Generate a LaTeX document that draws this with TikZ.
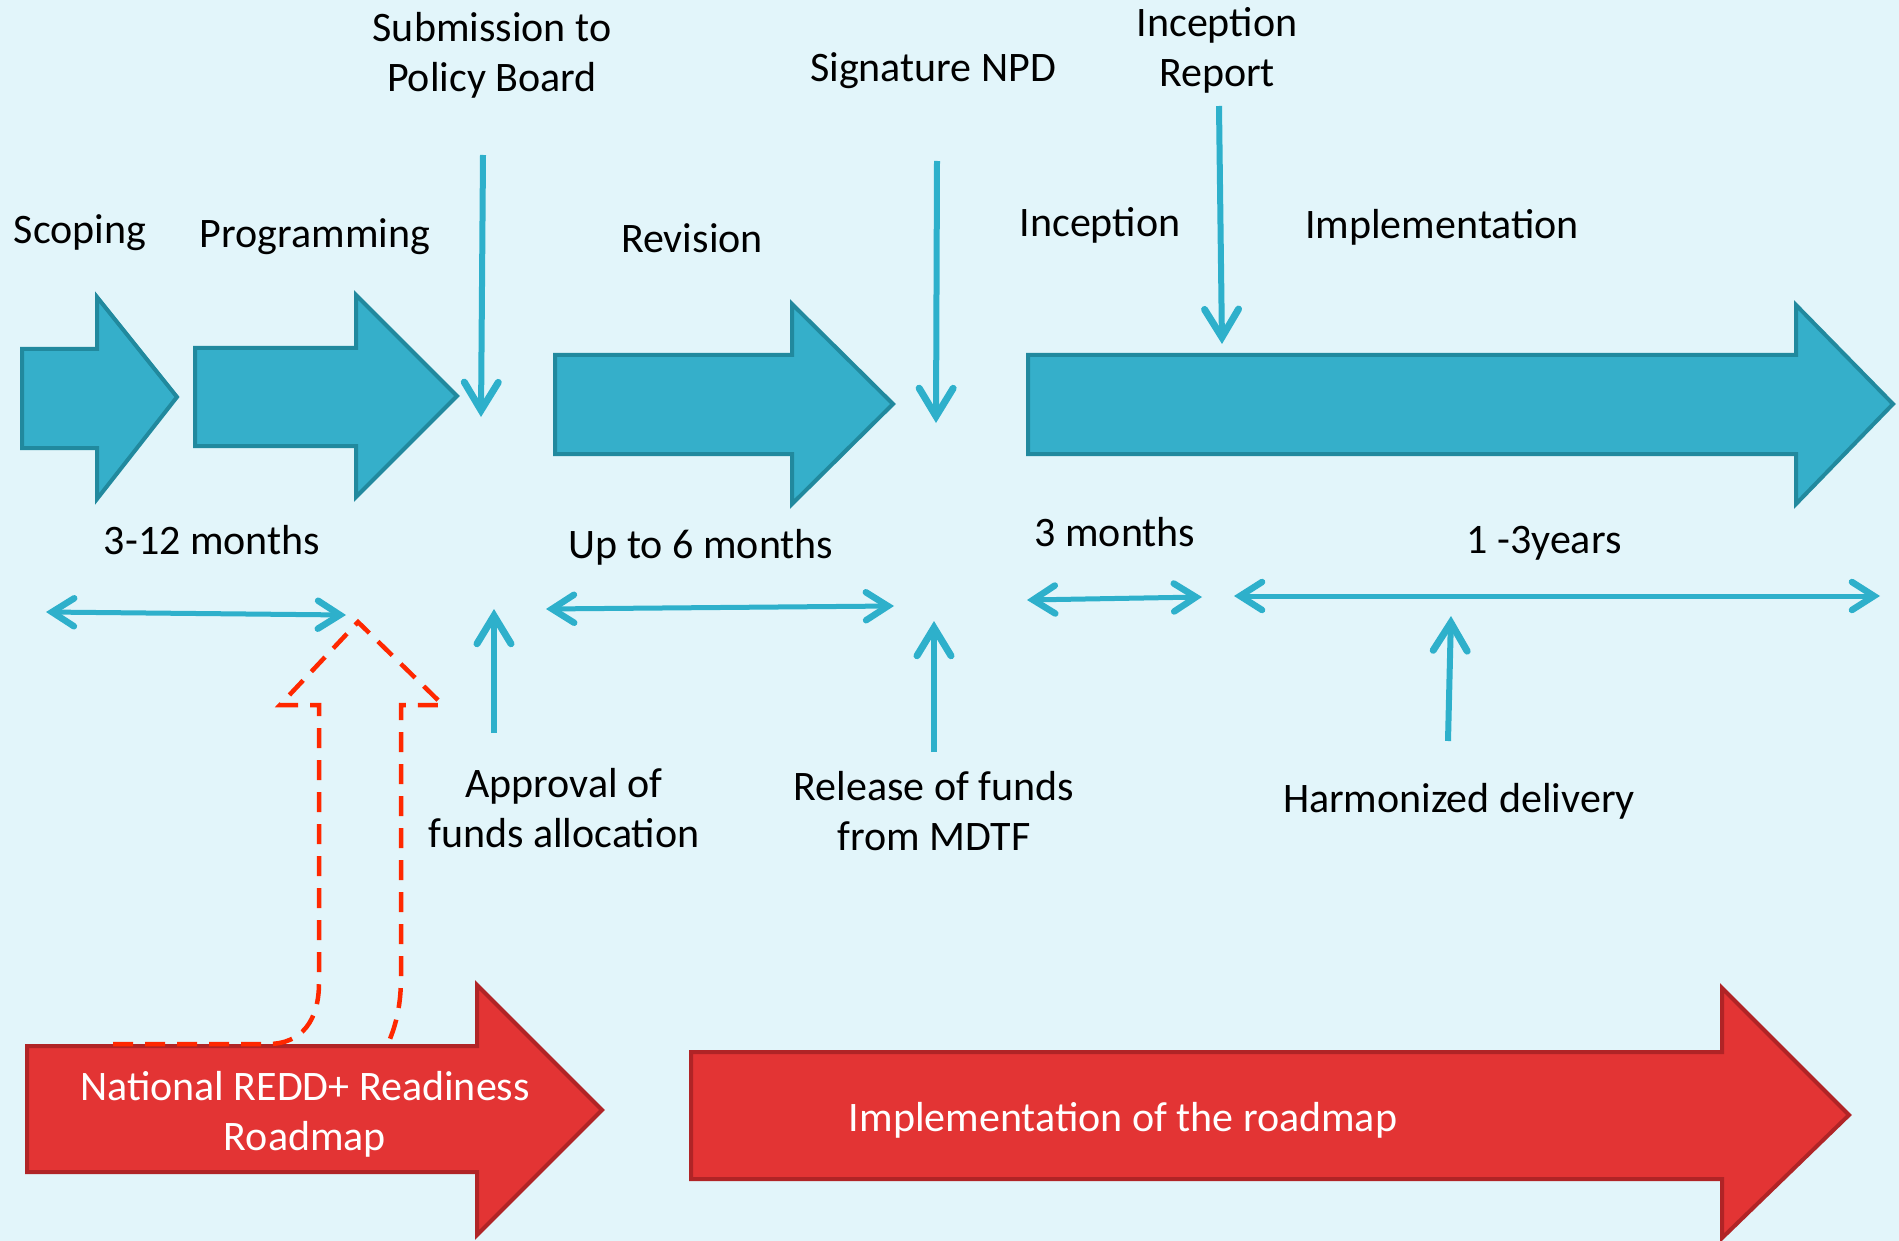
\documentclass[tikz,border=0pt]{standalone}
\usepackage{fontspec}
\setmainfont{Carlito}
\usetikzlibrary{arrows.meta}
\definecolor{bg}{RGB}{226,245,250}
\definecolor{bfill}{RGB}{53,175,202}
\definecolor{bdraw}{RGB}{33,137,158}
\definecolor{bline}{RGB}{46,176,203}
\definecolor{rfill}{RGB}{227,52,52}
\definecolor{rdraw}{RGB}{176,36,38}
\definecolor{rdash}{RGB}{255,40,0}
\tikzset{
  blockb/.style={fill=bfill, draw=bdraw, line width=4pt, line join=miter},
  blockr/.style={fill=rfill, draw=rdraw, line width=4pt, line join=miter},
  lbl/.style={font=\fontsize{42}{50}\selectfont, align=center, inner sep=0pt, text=black,
    execute at begin node=\strut, execute at end node=\strut},
  wlbl/.style={lbl, text=white},
  vtip/.tip={Straight Barb[length=28pt,width=34pt,line width=7pt,line cap=round,line join=miter]},
  htip/.tip={Straight Barb[length=22pt,width=28pt,line width=6.5pt,line cap=round,line join=miter]},
  vconn/.style={draw=bline, line width=6pt, -vtip},
  hconn/.style={draw=bline, line width=5pt, htip-htip},
  dashr/.style={draw=rdash, line width=4.5pt, dash pattern=on 20pt off 12pt, line join=miter},
}
\begin{document}
\begin{tikzpicture}[x=1pt,y=-1pt]
\fill[bg] (0,0) rectangle (1899,1241);
\useasboundingbox (0,0) rectangle (1899,1241);

% blue block arrows
\draw[blockb] (22,349) -- (97,349) -- (97,297) -- (177,397) -- (97,499) -- (97,448) -- (22,448) -- cycle;
\draw[blockb] (195,348) -- (356,348) -- (356,295) -- (457,396) -- (356,497) -- (356,446) -- (195,446) -- cycle;
\draw[blockb] (555,355) -- (792,355) -- (792,304) -- (893,404) -- (792,504) -- (792,454) -- (555,454) -- cycle;
\draw[blockb] (1028,355) -- (1796,355) -- (1796,305) -- (1893,404) -- (1796,504) -- (1796,454) -- (1028,454) -- cycle;

% red block arrows
\draw[blockr] (27,1046) -- (477,1046) -- (477,985) -- (602,1110) -- (477,1235) -- (477,1172) -- (27,1172) -- cycle;
\draw[blockr] (691,1052) -- (1722,1052) -- (1722,988) -- (1849,1115) -- (1722,1238) -- (1722,1179) -- (691,1179) -- cycle;

% red dashed up arrow
\draw[dashr] (113,1044) -- (268,1044) .. controls (302,1044) and (319,1020) .. (319,983)
  -- (319,705) -- (280,705) -- (358,622) -- (443,705) -- (401,705) -- (401,977)
  .. controls (401,1008) and (395,1028) .. (387,1046);

% labels
\node[lbl] (scoping) at (80,234) {Scoping};
\node[lbl] (programming) at (315,238) {Programming};
\node[lbl] (submission) at (492,59) {Submission to\\Policy Board};
\node[lbl] (revision) at (692,243) {Revision};
\node[lbl] (signature) at (933,72) {Signature NPD};
\node[lbl] (inception) at (1100,227) {Inception};
\node[lbl] (increport) at (1217,54) {Inception\\Report};
\node[lbl] (implementation) at (1442,229) {Implementation};
\node[lbl] (dur1) at (212,544) {3-12 months};
\node[lbl] (dur2) at (701,548) {Up to 6 months};
\node[lbl] (dur3) at (1115,536) {3 months};
\node[lbl] (dur4) at (1544,543) {1 -3years};
\node[lbl] (approval) at (564,815) {Approval of\\funds allocation};
\node[lbl] (release) at (934,818) {Release of funds\\from MDTF};
\node[lbl] (harmonized) at (1459,802) {Harmonized delivery};
\node[wlbl] (roadmap) at (305,1118) {National REDD+ Readiness\\Roadmap};
\node[wlbl] (implroad) at (1123,1121) {Implementation of the roadmap};

% connector end points
\coordinate (subS) at (483,155);
\coordinate (subE) at (481,417);
\coordinate (sigS) at (937,161);
\coordinate (sigE) at (936,423);
\coordinate (irS) at (1219,106);
\coordinate (irE) at (1222,344);
\coordinate (appS) at (494,733);
\coordinate (appE) at (494,609);
\coordinate (relS) at (934,752);
\coordinate (relE) at (934,621);
\coordinate (harS) at (1448,741);
\coordinate (harE) at (1451,616);
\coordinate (h1a) at (46,612);
\coordinate (h1b) at (346,615);
\coordinate (h2a) at (546,609);
\coordinate (h2b) at (894,606);
\coordinate (h3a) at (1027,600);
\coordinate (h3b) at (1202,597);
\coordinate (h4a) at (1234,596);
\coordinate (h4b) at (1880,596);

\draw[vconn] (subS) -- (subE);
\draw[vconn] (sigS) -- (sigE);
\draw[vconn] (irS) -- (irE);
\draw[vconn] (appS) -- (appE);
\draw[vconn] (relS) -- (relE);
\draw[vconn] (harS) -- (harE);
\draw[hconn] (h1a) -- (h1b);
\draw[hconn] (h2a) -- (h2b);
\draw[hconn] (h3a) -- (h3b);
\draw[hconn] (h4a) -- (h4b);
\end{tikzpicture}
\end{document}
